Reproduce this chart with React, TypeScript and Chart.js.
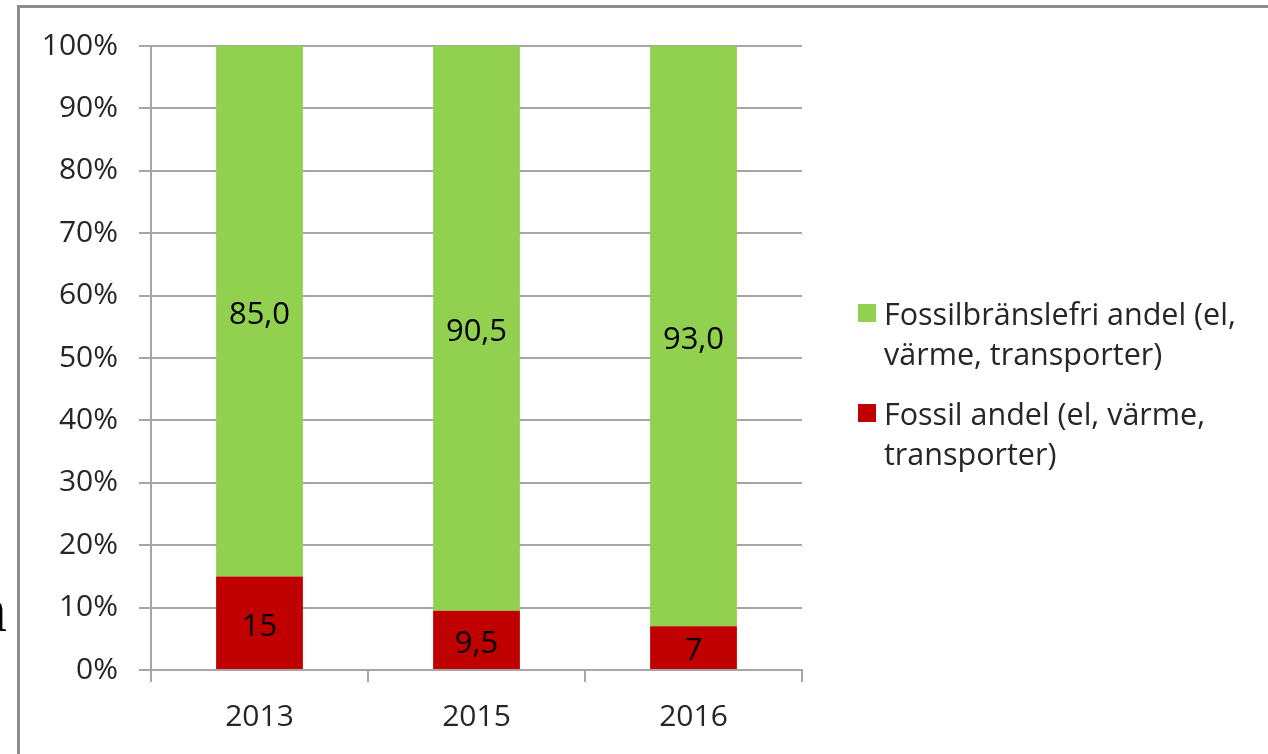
import React, { useEffect, useRef } from "react";
import { Chart, registerables } from "chart.js";

Chart.register(...registerables);

const categories = ["2013", "2015", "2016"];
const fossilValues = [15, 9.5, 7];
const fossilFreeValues = [85, 90.5, 93];
const fossilLabels = ["15", "9,5", "7"];
const fossilFreeLabels = ["85,0", "90,5", "93,0"];
const seriesNames = [
  "Fossilbränslefri andel (el, värme, transporter)",
  "Fossil andel (el, värme, transporter)",
];
const seriesColors = ["#92D050", "#C00000"];

const FONT = "'Open Sans', 'Noto Sans', sans-serif";
const GRID = "#A6A6A6";

export default function App() {
  const ref = useRef<HTMLCanvasElement | null>(null);

  useEffect(() => {
    if (!ref.current) return;
    const labelPlugin = {
      id: "segLabels",
      afterDatasetsDraw(chart: any) {
        const ctx = chart.ctx;
        ctx.save();
        ctx.font = `31px ${FONT}`;
        ctx.fillStyle = "#000000";
        ctx.textAlign = "center";
        ctx.textBaseline = "middle";
        chart.data.datasets.forEach((ds: any, di: number) => {
          const meta = chart.getDatasetMeta(di);
          meta.data.forEach((bar: any, i: number) => {
            const y = (bar.y + bar.base) / 2 + 4;
            ctx.fillText(ds.segLabels[i], bar.x, y);
          });
        });
        ctx.restore();
      },
    };
    const chart = new Chart(ref.current, {
      type: "bar",
      data: {
        labels: categories,
        datasets: [
          {
            label: seriesNames[1],
            data: fossilValues,
            backgroundColor: seriesColors[1],
            segLabels: fossilLabels,
          } as any,
          {
            label: seriesNames[0],
            data: fossilFreeValues,
            backgroundColor: seriesColors[0],
            segLabels: fossilFreeLabels,
          } as any,
        ],
      },
      options: {
        animation: false,
        responsive: false,
        maintainAspectRatio: false,
        layout: { padding: { left: 0, top: 46, right: 466, bottom: 0 } },
        plugins: { legend: { display: false }, tooltip: { enabled: false } },
        datasets: { bar: { categoryPercentage: 1, barPercentage: 0.4 } },
        scales: {
          x: {
            stacked: true,
            grid: {
              offset: true,
              drawOnChartArea: false,
              color: GRID,
              lineWidth: 2,
              tickLength: 12,
            },
            border: { color: GRID, width: 2 },
            ticks: {
              color: "#262626",
              font: { family: FONT, size: 30 },
              padding: 17,
            },
            afterFit(scale: any) {
              scale.height = 84;
            },
          },
          y: {
            stacked: true,
            min: 0,
            max: 100,
            grid: { color: GRID, lineWidth: 2, tickLength: 12 },
            border: { color: GRID, width: 2 },
            ticks: {
              stepSize: 10,
              color: "#262626",
              font: { family: FONT, size: 30 },
              padding: 21,
              callback: (v: any) => v + "%",
            },
            afterFit(scale: any) {
              scale.width = 151;
            },
          },
        },
      } as any,
      plugins: [labelPlugin],
    });
    return () => chart.destroy();
  }, []);

  const legendItems = [0, 1];

  return (
    <div
      style={{
        position: "fixed",
        left: 0,
        top: 0,
        width: 1268,
        height: 754,
        background: "#ffffff",
        overflow: "hidden",
      }}
    >
      <div
        style={{
          position: "absolute",
          right: 1261,
          top: 578,
          fontFamily: "'Liberation Serif', serif",
          fontSize: 64,
          lineHeight: 1,
          color: "#000",
        }}
      >
        a
      </div>
      <div
        style={{
          position: "absolute",
          left: 17,
          top: 5,
          width: 1400,
          height: 900,
          borderLeft: "3px solid #8C8C8C",
          borderTop: "3px solid #8C8C8C",
        }}
      />
      <canvas
        ref={ref}
        width={1268}
        height={754}
        style={{ position: "absolute", left: 0, top: 0, width: 1268, height: 754 }}
      />
      <div
        style={{
          position: "absolute",
          left: 858,
          top: 293,
          fontFamily: FONT,
          fontSize: 30.5,
          lineHeight: "40px",
          color: "#262626",
        }}
      >
        {legendItems.map((i) => (
          <div key={i} style={{ display: "flex", alignItems: "flex-start", marginBottom: 20 }}>
            <div
              style={{
                width: 18,
                height: 18,
                marginTop: 11,
                marginRight: 8,
                background: seriesColors[i],
                flex: "none",
              }}
            />
            <div style={{ width: 400, whiteSpace: "normal" }}>{seriesNames[i]}</div>
          </div>
        ))}
      </div>
    </div>
  );
}
